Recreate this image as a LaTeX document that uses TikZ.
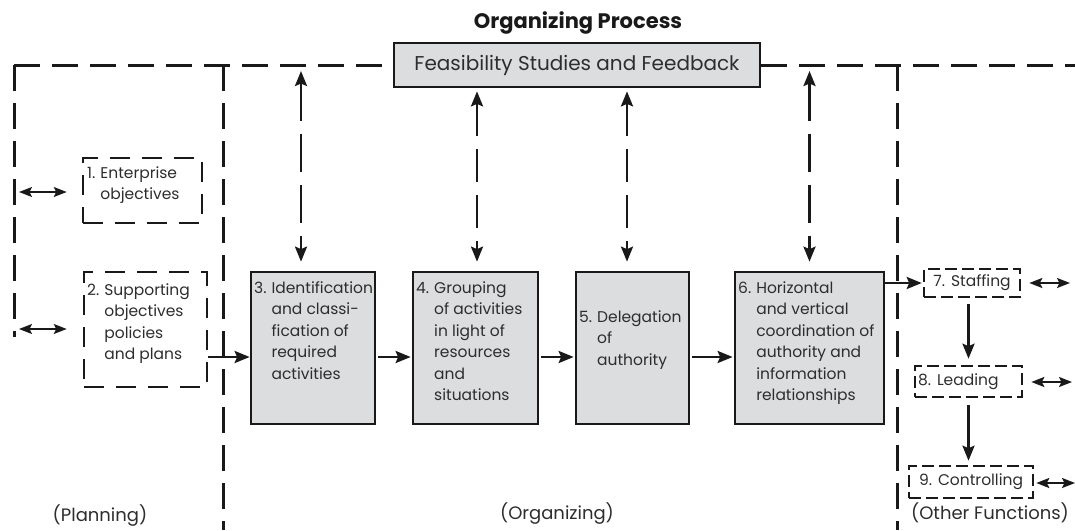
\documentclass[tikz,border=0pt]{standalone}
\usepackage{fontspec}
\setmainfont{Poppins}
\usetikzlibrary{arrows.meta}
\definecolor{boxgray}{RGB}{220,221,222}
\definecolor{ink}{RGB}{25,25,25}
\definecolor{txt}{RGB}{45,45,45}
\begin{document}
\begin{tikzpicture}[x=1pt,y=-1pt,
  frame/.style={draw=ink, line width=3pt, dash pattern=on 26pt off 12pt},
  graybox/.style={draw=ink, line width=2.7pt, fill=boxgray, inner sep=0pt},
  dbox/.style={draw=ink, line width=2.6pt, dash pattern=on 12pt off 5pt, inner sep=0pt},
  dboxbig/.style={draw=ink, line width=2.6pt, dash pattern=on 20pt off 12pt, inner sep=0pt},
  boxtxt/.style={text=txt, inner sep=0pt, anchor=base west, font=\fontsize{15.5}{21.5}\selectfont},
  smalltxt/.style={text=txt, font=\fontsize{15.5}{21.5}\selectfont},
  flow/.style={draw=ink, line width=2.6pt, -{Stealth[length=15pt,width=12pt,inset=2.5pt]}},
  fblong/.style={draw=ink, line width=2.6pt, dash pattern=on 38pt off 13pt, {Stealth[length=15pt,width=12pt,inset=2.5pt]}-{Stealth[length=15pt,width=12pt,inset=2.5pt]}},
  fbshort/.style={draw=ink, line width=2.6pt, dash pattern=on 33pt off 13pt, {Stealth[length=15pt,width=12pt,inset=2.5pt]}-{Stealth[length=15pt,width=12pt,inset=2.5pt]}},
  thinlr/.style={draw=ink, line width=1.4pt, {Stealth[length=13pt,width=10pt,inset=2.5pt]}-{Stealth[length=13pt,width=10pt,inset=2.5pt]}},
  medlr/.style={draw=ink, line width=2pt, {Stealth[length=13pt,width=10pt,inset=2.5pt]}-{Stealth[length=13pt,width=10pt,inset=2.5pt]}},
  lbl/.style={text=txt, font=\fontsize{18}{22}\selectfont}
]
\useasboundingbox (0,0) rectangle (1075,530);

% title and feasibility box
\node[font=\fontsize{21}{25}\bfseries\selectfont, text=ink] (title) at (578,23) {Organizing Process};
\node[graybox, minimum width=366pt, minimum height=44pt, text=txt, font=\fontsize{20}{24}\selectfont] (fb) at (577,65) {Feasibility Studies and Feedback};

% frame lines
\coordinate (c2) at (14,65);
\coordinate (c1) at (14,337);
\coordinate (tr) at (1075,65);
\coordinate (m1) at (223,65);
\coordinate (m2) at (223,530);
\coordinate (r1) at (897,65);
\coordinate (r2) at (897,530);
\draw[frame] (c2) -- (fb.west);
\draw[frame] (c2) -- (c1);
\draw[frame] (fb.east) -- (tr);
\draw[frame] (m1) -- (m2);
\draw[frame] (r1) -- (r2);

% planning boxes
\node[dboxbig, minimum width=119pt, minimum height=65pt] (e1) at (142.5,190.5) {};
\node[boxtxt] (t1) at (87,178) {\begin{tabular}[t]{@{}l@{\hspace{5pt}}l@{}}1. & Enterprise\\ & objectives\end{tabular}};
\node[dboxbig, minimum width=123pt, minimum height=115pt] (s2) at (145.5,329.5) {};
\node[boxtxt] (t2) at (87,295) {\begin{tabular}[t]{@{}l@{\hspace{5pt}}l@{}}2. & Supporting\\ & objectives\\ & policies\\ & and plans\end{tabular}};

% organizing boxes
\node[graybox, minimum width=124pt, minimum height=152pt] (b3) at (313,348) {};
\node[boxtxt] (t3) at (254,293) {\begin{tabular}[t]{@{}l@{\hspace{5pt}}l@{}}3. & Identification\\ & and classi-\\ & fication of\\ & required\\ & activities\end{tabular}};
\node[graybox, minimum width=125pt, minimum height=152pt] (b4) at (475.5,348) {};
\node[boxtxt] (t4) at (416,293) {\begin{tabular}[t]{@{}l@{\hspace{5pt}}l@{}}4. & Grouping\\ & of activities\\ & in light of\\ & resources\\ & and\\ & situations\end{tabular}};
\node[graybox, minimum width=113pt, minimum height=152pt] (b5) at (632.5,348) {};
\node[boxtxt] (t5) at (579,322) {\begin{tabular}[t]{@{}l@{\hspace{5pt}}l@{}}5. & Delegation\\ & of\\ & authority\end{tabular}};
\node[graybox, minimum width=149pt, minimum height=152pt] (b6) at (809.5,348) {};
\node[boxtxt] (t6) at (738,293) {\begin{tabular}[t]{@{}l@{\hspace{5pt}}l@{}}6. & Horizontal\\ & and vertical\\ & coordination of\\ & authority and\\ & information\\ & relationships\end{tabular}};

% other functions
\node[dbox, minimum width=96pt, minimum height=28pt, smalltxt] (st) at (972,283) {7.\hspace{6pt}Staffing};
\node[dbox, minimum width=107pt, minimum height=31pt, smalltxt, text width=101pt, align=left] (ld) at (968.5,381.5) {8.\hspace{6pt}Leading};
\node[dbox, minimum width=124pt, minimum height=32pt, smalltxt] (ct) at (971,482) {9.\hspace{6pt}Controlling};

% labels
\node[lbl] (pl) at (100,516) {(Planning)};
\node[lbl] (og) at (557,514) {(Organizing)};
\node[lbl] (of) at (990,513) {(Other Functions)};

% flow arrows
\draw[flow] (s2.east |- 0,357) -- (b3.west |- 0,357);
\draw[flow, shorten <=2pt, shorten >=1pt] (b3.east |- 0,357) -- (b4.west |- 0,357);
\draw[flow, shorten <=2pt, shorten >=1pt] (b4.east |- 0,357) -- (b5.west |- 0,357);
\draw[flow, shorten <=2pt, shorten >=1pt] (b5.east |- 0,357) -- (b6.west |- 0,357);
\draw[flow, shorten >=1pt] (b6.east |- st.west) -- (st.west);
\draw[flow, shorten <=6pt, shorten >=6pt] (ld.north |- st.south) -- (ld.north);
\draw[flow, shorten <=7pt, shorten >=4pt] (ld.south) -- (ld.south |- ct.north);

% feedback arrows
\coordinate (f3) at (301,71);
\coordinate (f6) at (809.5,71);
\draw[fblong, shorten >=9pt] (f3) -- (f3 |- b3.north);
\draw[fbshort, shorten <=3pt, shorten >=9pt] (fb.south -| 477,0) -- (b4.north -| 477,0);
\draw[fbshort, shorten <=3pt, shorten >=9pt] (fb.south -| 627,0) -- (b5.north -| 627,0);
\draw[fblong, shorten >=9pt] (f6) -- (f6 |- b6.north);

% side double arrows
\coordinate (l1) at (19,192);
\coordinate (l2) at (19,329);
\draw[thinlr] (l1) -- ([xshift=-15pt]e1.west |- l1);
\draw[thinlr] (l2) -- ([xshift=-16pt]s2.west |- l2);
\coordinate (q7) at (1070,283);
\coordinate (q8) at (1072,382);
\coordinate (q9) at (1075,483);
\draw[medlr] ([xshift=8pt]st.east) -- (q7);
\draw[medlr] ([xshift=8pt]ld.east |- q8) -- (q8);
\draw[medlr] ([xshift=2pt]ct.east |- q9) -- (q9);
\end{tikzpicture}
\end{document}
